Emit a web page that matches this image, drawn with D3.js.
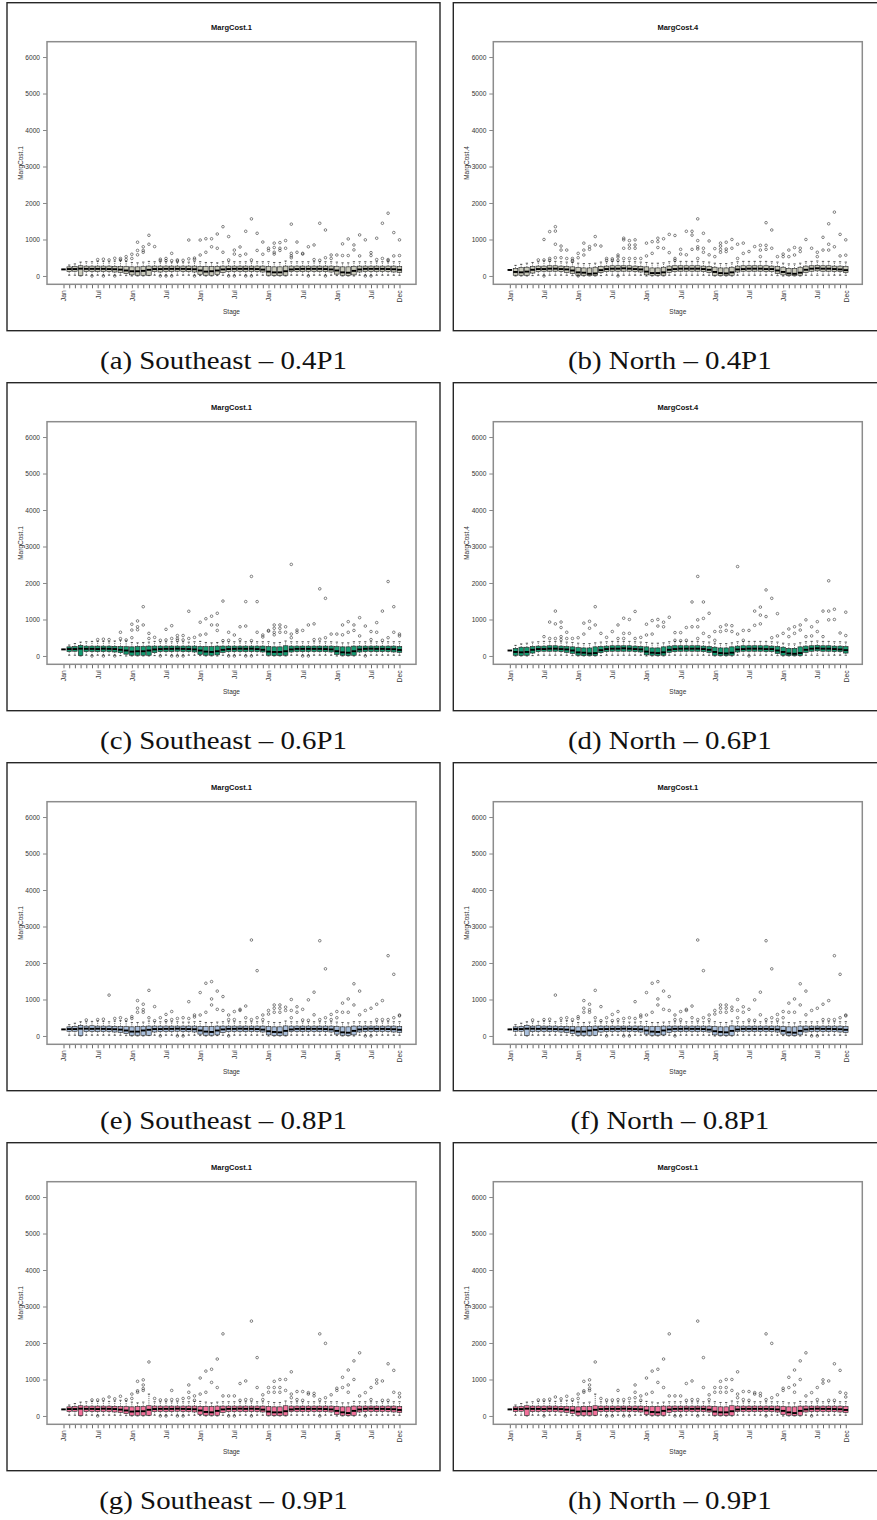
<!DOCTYPE html>
<html><head><meta charset="utf-8">
<script src="https://cdn.jsdelivr.net/npm/d3@7"></script>
<style>body{margin:0;background:#fff}svg{display:block}</style>
</head><body>
<svg id="chart" width="877" height="1520"></svg>
<script>
// ---------- tick labels ----------
const stageLabels = ["Jan","","","","","","Jul","","","","","",
  "Jan","","","","","","Jul","","","","","",
  "Jan","","","","","","Jul","","","","","",
  "Jan","","","","","","Jul","","","","","",
  "Jan","","","","","","Jul","","","","","Dec"];
const yTicks = [0,1000,2000,3000,4000,5000,6000];

// ---------- (a) Southeast 0.4P1 ----------
const aQ1 = [180,120,130,10,120,120,120,120,120,110,100,70,30,20,20,20,120,110,120,120,130,120,120,110,40,20,20,40,100,120,120,120,120,120,120,110,20,10,10,20,120,120,120,120,120,120,120,110,50,20,10,30,110,120,120,120,120,120,110,100];
const aMed = [180,190,190,200,195,195,195,195,190,185,175,150,130,130,140,170,190,190,195,195,195,195,190,185,150,120,130,150,180,190,195,195,195,195,190,175,120,100,100,130,180,190,195,195,195,195,190,180,150,100,90,140,180,195,195,195,195,190,185,170];
const aQ3 = [180,250,260,280,270,270,270,270,270,265,260,255,250,250,260,270,270,270,270,270,270,270,270,270,260,255,255,265,270,270,270,270,270,270,270,270,260,250,250,270,270,270,270,270,270,270,270,270,260,250,250,265,270,270,270,270,270,270,270,260];
const aHi = [180,300,330,380,390,390,400,400,390,410,420,400,370,360,380,400,390,390,390,380,380,380,380,390,390,370,370,360,390,390,390,390,390,390,390,390,390,370,370,410,390,390,390,390,390,390,390,390,380,360,360,390,390,390,390,390,390,390,390,390];
const aLo = [180,20,20,0,20,20,20,20,20,20,20,10,0,0,0,10,20,20,20,20,20,20,20,20,10,0,0,10,20,20,20,20,20,20,20,20,0,0,0,0,20,20,20,20,20,20,20,20,10,0,0,0,20,20,20,20,20,20,20,20];
const aOut = [
[],[],[],[],[],[0],[450],[460,0],[440],[485,0],
[480,440],[530,450],[595,480],[925,700,580],[800,700,650],[1115,870],[805],[460,420,0],[480,420,0],[620,420,0],
[440,410],[430],[985,470],[490,450,0],[985,575],[1020,650],[1020,800],[1150,760],[1350,650],[1080,440,0],
[710,600,0],[795,560],[1225,600,0],[1565,440,0],[1170,700],[930,595],[760,700],[900,780,650,600],[915,760,700],[970,760],
[1420,620,550,500],[930,650],[620,600],[800,0],[850,450],[1445,430],[1260,500,0],[575,480],[575],[880,560],
[1015,560],[850,715],[1125,550],[990,0],[640,560,0],[1035,450],[1445,480],[1720,450,420],[1190,550],[990,560]];

// ---------- (b) North 0.4P1 ----------
const bQ1 = [165,20,20,20,80,120,130,130,130,120,100,70,20,20,10,10,90,120,130,130,130,130,120,110,30,20,20,20,100,120,130,130,130,130,120,100,20,10,10,20,110,130,130,130,130,120,120,70,30,10,10,20,100,130,140,130,130,120,120,90];
const bMed = [165,110,100,120,170,190,190,200,200,190,180,150,100,90,60,70,160,190,200,200,210,200,190,180,120,80,80,100,170,190,200,200,200,200,190,170,110,80,70,100,180,190,200,200,200,190,190,150,110,70,60,90,170,200,210,200,200,190,180,160];
const bQ3 = [165,210,230,240,260,270,270,280,280,270,260,250,230,220,220,240,260,270,280,280,280,280,270,260,250,220,220,240,270,280,280,280,280,280,270,260,240,220,220,240,270,280,280,280,280,280,270,260,240,210,210,240,270,280,290,280,280,270,270,260];
const bHi = [165,290,320,350,370,390,410,400,400,390,380,370,350,340,340,350,380,390,400,400,400,400,390,380,370,350,350,360,390,400,400,400,400,400,390,380,350,340,340,360,390,400,400,400,400,400,390,380,350,330,330,350,390,400,410,400,400,390,390,380];
const bLo = [165,0,0,0,10,20,20,20,20,20,20,10,0,0,0,0,10,20,20,20,20,20,20,20,0,0,0,0,20,20,20,20,20,20,20,20,0,0,0,0,20,20,20,20,20,20,20,10,0,0,0,0,20,20,20,20,20,20,20,20];
const bOut = [
[],[],[],[],[],[440],[1000,440,0],[1215,480,430],[1350,1230,870,500],[820,710,500],
[710,480],[480,430,400],[620,500,0],[900,710,575],[805,730],[1080,850],[820],[480,430],[470,430],[575,520,430,0],
[1035,990,760,480],[970,850,760,480],[990,850,760,480],[480],[900,550],[940,620],[1035,940,780],[1020,760],[1140,640],[1110,480,430],
[730,600],[1225,580],[1225,1120,730],[1565,970,800,740,480],[1170,760,650],[960,580],[750,530],[900,820,730,650],[925,740,670],[1000,760],
[870,480],[900,620],[670],[805],[840,710,530],[1460,840,730],[1260,760],[530],[600,530],[710,530],
[780,575],[760,670],[1000],[760],[650,530],[1060,710],[1430,870,710],[1750,800],[1140,550],[990,570]];

// ---------- (c) Southeast 0.6P1 ----------
const cQ1 = [180,120,130,10,120,120,120,120,120,110,90,50,20,20,20,20,90,120,120,120,130,120,120,110,40,20,20,30,100,120,120,120,120,120,120,110,20,10,10,20,110,120,120,120,120,120,120,110,40,20,10,20,110,120,120,120,120,120,110,100];
const cMed = [180,190,190,200,195,195,190,200,195,190,170,150,120,130,130,150,180,190,195,195,200,195,190,180,150,120,110,130,170,190,195,200,195,200,190,170,120,110,110,130,180,195,195,195,195,195,190,180,130,100,90,130,180,195,200,195,195,190,185,165];
const cQ3 = [180,250,260,290,270,270,270,270,270,265,260,255,250,260,260,270,270,270,270,270,270,270,270,270,260,255,255,270,270,270,270,270,270,270,270,270,260,250,250,280,270,270,270,270,270,270,270,270,260,250,250,270,270,270,270,270,270,270,270,260];
const cHi = [180,300,340,380,390,400,400,400,390,410,430,410,370,360,370,380,400,390,390,390,390,390,380,390,400,370,360,370,390,390,390,390,390,390,390,390,390,360,370,410,390,390,390,390,390,390,390,390,380,360,360,390,390,390,390,390,390,390,390,390];
const cLo = [180,20,20,0,20,20,20,20,20,20,10,0,0,0,0,0,10,20,20,20,20,20,20,20,10,0,0,0,20,20,20,20,20,20,20,20,0,0,0,0,20,20,20,20,20,20,20,20,0,0,0,0,20,20,20,20,20,20,20,20];
const cOut = [
[],[],[],[],[],[0],[450],[460,0],[450],[0],
[650,475],[440],[870,710,500],[960,800,720],[1350,850],[620,480],[510],[430,0],[730,440],[830,480,0],
[560,480,430,0],[560,440,0],[1225,480],[510],[925,575],[1020,600],[1090,850],[1170,850,700],[1505,420],[650,430,0],
[575,0],[800,450],[1490,820,0],[2180,420,0],[1490,650],[575,520],[700,680],[850,760,650,580],[850,760,650],[800,650],
[2510,600,500],[710,650],[700,0],[850,0],[880,450],[1840,460],[1580,500],[600],[600],[850,580],
[940,650],[850,700],[1050,550],[820,0],[670,450],[915,650],[1230,430],[2040,500],[1350,650],[600,550]];

// ---------- (d) North 0.6P1 ----------
const dQ1 = [150,20,10,20,80,120,130,130,130,120,100,70,20,10,10,10,90,120,130,130,130,130,120,110,30,20,10,20,100,120,130,130,130,130,120,100,20,10,10,20,110,130,130,130,130,120,120,70,20,10,10,10,100,130,140,130,130,120,120,80];
const dMed = [150,110,100,110,170,190,190,200,200,190,180,150,100,90,70,80,160,190,200,200,210,200,190,180,120,90,80,100,170,190,200,200,200,200,190,170,110,80,70,90,180,190,200,200,200,190,190,150,110,70,60,80,170,200,210,200,200,190,180,160];
const dQ3 = [150,210,240,240,260,270,270,280,280,270,260,250,230,220,220,250,260,270,280,280,280,280,270,260,250,220,220,250,270,280,280,280,280,280,270,260,240,220,220,250,270,280,280,280,280,280,270,260,240,210,210,250,270,280,290,280,280,270,270,260];
const dHi = [150,290,330,350,380,390,400,400,400,390,380,370,350,340,340,360,380,390,400,400,400,400,390,380,370,350,350,360,390,400,400,400,400,400,390,380,350,340,340,360,390,400,400,400,400,400,390,380,350,330,330,360,390,400,410,400,400,390,390,380];
const dLo = [150,0,0,0,10,20,20,20,20,20,20,10,0,0,0,0,10,20,20,20,20,20,20,20,0,0,0,0,20,20,20,20,20,20,20,20,0,0,0,0,20,20,20,20,20,20,20,10,0,0,0,0,20,20,20,20,20,20,20,20];
const dOut = [
[],[],[],[],[],[],[530],[930,480],[1230,880,480],[930,780,530,450],
[650,480],[480],[500],[900,600],[950,760],[1350,850],[620],[510],[670],[850,480],
[1035,620,480],[1000,620],[1220,480],[510],[870,575],[970,600],[1000,820],[925,800],[1060],[640,430],
[640,420],[780,430],[1480,800],[2180,990,800,480],[1480,1030,620],[1170,530],[670,430],[800,670],[850,700],[830,670],
[2450,600],[700,430],[700,0],[1230,840],[1340,1120,880],[1810,1080],[1580,500],[1160,550],[620],[740,530],
[800,620],[850,710],[990,530],[800,550],[940,670],[1230,530],[2060,1230,990],[1280,1000],[630],[1200,560]];

// ---------- (e)/(f) 0.8P1 ----------
const eQ1 = [180,130,130,10,120,120,120,120,120,110,100,70,20,20,20,20,110,120,120,120,130,120,120,110,50,20,20,30,100,120,120,120,120,120,120,110,30,10,10,20,120,120,120,120,120,120,120,110,50,20,10,30,110,120,120,120,120,120,110,100];
const eMed = [180,190,190,200,200,195,200,195,190,185,175,150,120,120,150,170,190,190,195,195,200,195,190,185,150,120,110,150,180,195,195,200,195,195,190,175,130,110,100,140,180,195,195,195,195,195,190,180,140,100,90,140,180,195,200,195,195,190,185,170];
const eQ3 = [180,250,260,290,270,280,270,270,270,265,260,255,250,255,265,270,270,270,270,270,270,270,270,270,260,255,255,270,270,270,270,270,270,270,270,270,260,250,250,275,270,270,270,270,270,270,270,270,260,250,250,270,270,270,270,270,270,270,270,260];
const eHi = [180,310,350,390,390,400,410,400,390,410,420,400,370,370,380,410,390,390,390,390,390,380,380,390,400,370,370,380,390,390,390,390,390,390,390,390,390,370,370,410,390,390,390,390,390,390,390,390,380,370,360,390,390,390,390,390,390,390,390,390];
const eLo = [180,20,20,0,20,20,20,20,20,20,20,10,0,0,0,10,20,20,20,20,20,20,20,20,10,0,0,10,20,20,20,20,20,20,20,20,0,0,0,0,20,20,20,20,20,20,20,20,10,0,0,0,20,20,20,20,20,20,20,20];
const eOut = [
[],[],[],[],[440],[],[450],[460],[1120],[480],
[500],[450],[530,480],[970,760,650],[870,720,650],[1250,500],[805,420],[500,0],[590,420],[670,450],
[480,0],[500,0],[940,480],[575,520],[1190,575],[1445,650],[1490,1015,850],[1230,730],[1080,700],[575,450,0],
[670,450],[730,700],[820,500],[2630,450],[1790,500],[575,450],[700,600],[850,760,650],[850,760,650],[790,700],
[1000,700,500],[800,650],[730,440],[990,430],[1200,580],[2610,450],[1840,500],[590,450],[670,500],[900,650],
[1015,650],[1430,850],[1230,580],[700,0],[760,0],[870,450],[970,450],[2200,450],[1690,500],[575,550]];

// ---------- (g)/(h) 0.9P1 ----------
const gQ1 = [180,120,130,10,120,120,120,120,120,110,100,70,20,20,20,20,120,120,120,120,130,120,120,110,40,20,20,20,100,120,120,120,120,120,120,110,20,10,10,20,120,120,120,120,120,120,120,110,40,20,10,20,110,120,120,120,120,120,110,100];
const gMed = [180,190,190,200,195,195,190,200,195,190,175,150,120,130,130,170,190,195,195,195,200,195,190,185,150,110,100,140,180,195,195,200,195,200,195,175,120,100,100,130,180,195,195,195,195,195,190,180,140,100,80,140,180,195,200,195,195,190,185,165];
const gQ3 = [180,250,260,280,270,270,270,270,270,265,260,260,250,260,260,280,270,270,270,270,270,270,270,270,265,260,260,270,270,270,270,270,270,270,270,270,260,250,250,280,270,270,270,270,270,270,270,270,260,250,250,270,270,270,270,270,270,270,270,260];
const gHi = [180,300,340,380,390,400,400,410,400,410,430,410,380,360,380,600,390,390,390,390,390,390,390,400,400,380,360,380,390,390,390,390,390,390,390,390,390,370,370,410,390,390,390,390,390,390,390,390,390,360,360,400,390,390,390,390,390,390,390,390];
const gLo = [180,20,20,0,20,20,20,20,20,20,20,10,0,0,0,10,20,20,20,20,20,20,20,20,10,0,0,0,20,20,20,20,20,20,20,20,0,0,0,0,20,20,20,20,20,20,20,20,0,0,0,0,20,20,20,20,20,20,20,20];
const gOut = [
[],[],[],[],[],[440],[440,0],[460],[520],[470],
[540],[450],[600,480],[950,690,650],[990,850,750,700],[1480],[480],[440,0],[440,0],[700,450],
[450,0],[480,0],[850,650,500],[550,430],[1040,600],[1230,650],[1280,920],[1560,780],[2250,550],[550,0],
[550,0],[890,430],[960,450],[2600,450,0],[1600,780],[580,450],[780,650],[950,780,650],[1000,780,650],[1000,700],
[1210,600,500],[670,450],[670,430],[640,600],[620,550],[2250,450,0],[1990,500],[580],[760,700],[1060,780],
[1260,850,650],[1510,1000],[1730,550],[640,0],[780,450],[990,900],[960,430],[1430,430],[1250,650],[620,520]];

const panels = [
  {title:"MargCost.1", caption:"(a) Southeast \u2013 0.4P1", fill:"#c9cabb", q1:aQ1, med:aMed, q3:aQ3, hi:aHi, lo:aLo, out:aOut},
  {title:"MargCost.4", caption:"(b) North \u2013 0.4P1",     fill:"#c9cabb", q1:bQ1, med:bMed, q3:bQ3, hi:bHi, lo:bLo, out:bOut},
  {title:"MargCost.1", caption:"(c) Southeast \u2013 0.6P1", fill:"#139a70", q1:cQ1, med:cMed, q3:cQ3, hi:cHi, lo:cLo, out:cOut},
  {title:"MargCost.4", caption:"(d) North \u2013 0.6P1",     fill:"#139a70", q1:dQ1, med:dMed, q3:dQ3, hi:dHi, lo:dLo, out:dOut},
  {title:"MargCost.1", caption:"(e) Southeast \u2013 0.8P1", fill:"#a9bfdc", q1:eQ1, med:eMed, q3:eQ3, hi:eHi, lo:eLo, out:eOut},
  {title:"MargCost.1", caption:"(f) North \u2013 0.8P1",     fill:"#a9bfdc", q1:eQ1, med:eMed, q3:eQ3, hi:eHi, lo:eLo, out:eOut},
  {title:"MargCost.1", caption:"(g) Southeast \u2013 0.9P1", fill:"#f2709a", q1:gQ1, med:gMed, q3:gQ3, hi:gHi, lo:gLo, out:gOut},
  {title:"MargCost.1", caption:"(h) North \u2013 0.9P1",     fill:"#f2709a", q1:gQ1, med:gMed, q3:gQ3, hi:gHi, lo:gLo, out:gOut}
];

// ---------- drawing ----------
const svg = d3.select("#chart");
const FW = 433, FH = 328;
const P = {l:40, r:409, t:39, b:281.6};
const x = d3.scaleLinear().domain([-1.9, 62.9]).range([P.l, P.r]);
const y = d3.scaleLinear().domain([-228, 6420]).range([P.b, P.t]);
const hw = x(0.4) - x(0);
const sw = hw / 2;
const sans = "'Liberation Sans', Arial, sans-serif";

panels.forEach((p, i) => {
  const col = i % 2, row = Math.floor(i / 2);
  const x0 = col ? 453.3 : 7, y0 = 2.7 + row * 380;
  const g = svg.append("g").attr("transform", `translate(${x0},${y0})`);

  g.append("rect").attr("x",0).attr("y",0).attr("width",FW).attr("height",FH)
    .attr("fill","none").attr("stroke","#262626").attr("stroke-width",1.4);

  g.append("text").attr("x",(P.l+P.r)/2).attr("y",27).attr("text-anchor","middle")
    .style("font-family",sans).style("font-size","7.5px").style("font-weight","bold")
    .attr("fill","#111").text(p.title);

  const ya = g.append("g").attr("transform",`translate(${P.l},0)`)
    .call(d3.axisLeft(y).tickValues(yTicks).tickSize(4).tickPadding(3).tickFormat(d3.format("d")));
  ya.select(".domain").remove();
  ya.selectAll("line").attr("stroke","#555").attr("stroke-width",0.7);
  ya.selectAll("text").style("font-family",sans).style("font-size","6.6px").attr("fill","#333");

  const stageIdx = stageLabels.map((_, k) => k + 1);
  const xa = g.append("g").attr("transform",`translate(0,${P.b})`)
    .call(d3.axisBottom(x).tickValues(stageIdx).tickSize(4).tickFormat(d => stageLabels[d-1]));
  xa.select(".domain").remove();
  xa.selectAll("line").attr("stroke","#444").attr("stroke-width",0.8);
  xa.selectAll("text").attr("transform","rotate(-90)").attr("x",-6).attr("y",0).attr("dy","0.35em")
    .style("text-anchor","end").style("font-family",sans).style("font-size","6.8px").attr("fill","#333");

  g.append("text").attr("x",(P.l+P.r)/2).attr("y",311).attr("text-anchor","middle")
    .style("font-family",sans).style("font-size","6.5px").attr("fill","#333").text("Stage");
  g.append("text").attr("transform",`translate(15.5,${(P.t+P.b)/2}) rotate(-90)`).attr("text-anchor","middle")
    .style("font-family",sans).style("font-size","6.5px").attr("fill","#333").text(p.title);

  const bx = g.append("g");
  stageIdx.forEach((s, k) => {
    const cx = x(s);
    const q1 = p.q1[k], q3 = p.q3[k], md = p.med[k], hi = p.hi[k], lo = p.lo[k];
    const gg = bx.append("g");
    gg.append("line").attr("x1",cx).attr("x2",cx).attr("y1",y(q3)).attr("y2",y(hi))
      .attr("stroke","#111").attr("stroke-width",0.6).attr("stroke-dasharray","1.2,1");
    gg.append("line").attr("x1",cx).attr("x2",cx).attr("y1",y(q1)).attr("y2",y(lo))
      .attr("stroke","#111").attr("stroke-width",0.6).attr("stroke-dasharray","1.2,1");
    [hi, lo].forEach(v => gg.append("line").attr("x1",cx-sw).attr("x2",cx+sw)
      .attr("y1",y(v)).attr("y2",y(v)).attr("stroke","#111").attr("stroke-width",0.7));
    gg.append("rect").attr("x",cx-hw).attr("width",2*hw).attr("y",y(q3))
      .attr("height",Math.max(0,y(q1)-y(q3))).attr("fill",p.fill).attr("stroke","#222").attr("stroke-width",0.6);
    gg.append("line").attr("x1",cx-hw).attr("x2",cx+hw).attr("y1",y(md)).attr("y2",y(md))
      .attr("stroke","#000").attr("stroke-width",1.9);
    p.out[k].forEach(v => gg.append("circle").attr("cx",cx).attr("cy",y(v)).attr("r",1.3)
      .attr("fill","none").attr("stroke","#222").attr("stroke-width",0.55));
  });

  g.append("rect").attr("x",P.l).attr("y",P.t).attr("width",P.r-P.l).attr("height",P.b-P.t)
    .attr("fill","none").attr("stroke","#8c8c8c").attr("stroke-width",1.5);

  const cap = g.append("text").attr("x",FW/2).attr("y",366).attr("text-anchor","middle")
    .style("font-family","'Liberation Serif','Times New Roman',serif").style("font-size","26px")
    .attr("fill","#111").text(p.caption);
  const nat = cap.node().getComputedTextLength();
  cap.attr("textLength", nat * 1.11).attr("lengthAdjust","spacingAndGlyphs");
});
</script>
</body></html>
